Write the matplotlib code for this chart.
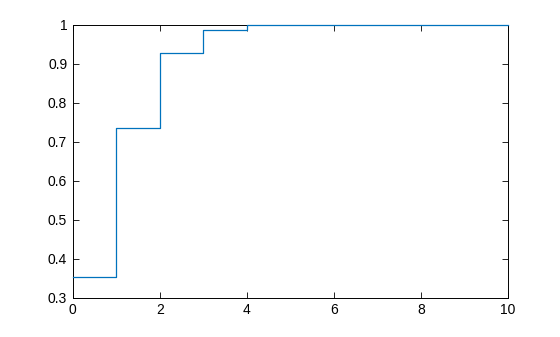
import matplotlib
matplotlib.use('Agg')
import matplotlib.pyplot as plt
from matplotlib.ticker import FormatStrFormatter

plt.rcParams['font.family'] = ['Liberation Sans', 'DejaVu Sans']

# cumulative values
x = [0, 1, 2, 3, 4, 5, 6, 7, 8, 9, 10]
cdf = [0.353, 0.736, 0.929, 0.986, 1.0, 1.0, 1.0, 1.0, 1.0, 1.0, 1.0]

fig = plt.figure(figsize=(5.6, 3.37), dpi=100)
ax = fig.add_axes([0.13, 0.116, 0.777, 0.81])
ax.step(x, cdf, where='post', color='#0072BD', linewidth=0.9, clip_on=False, zorder=5)

ax.set_xlim(0, 10)
ax.set_ylim(0.3, 1)
ax.set_xticks([0, 2, 4, 6, 8, 10])
ax.set_yticks([0.3, 0.4, 0.5, 0.6, 0.7, 0.8, 0.9, 1.0])
ax.yaxis.set_major_formatter(FormatStrFormatter('%g'))
ax.tick_params(direction='in', top=True, right=True, length=4, width=0.6,
               labelsize=10, pad=4)
for s in ax.spines.values():
    s.set_linewidth(0.7)

fig.savefig('out.png', dpi=100)
